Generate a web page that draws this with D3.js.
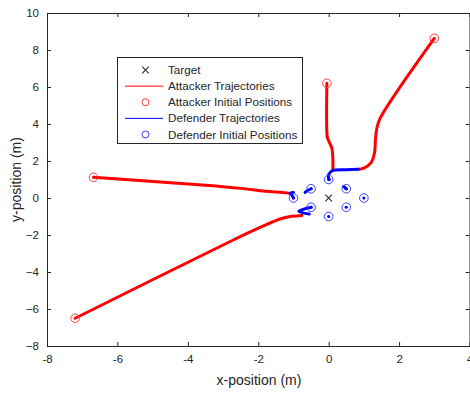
<!DOCTYPE html>
<html>
<head>
<meta charset="utf-8">
<script src="https://cdn.jsdelivr.net/npm/d3@7"></script>
<style>
  body { margin: 0; background: #fff; }
  text { font-family: "Liberation Sans", Arial, sans-serif; fill: #262626; }
</style>
</head>
<body>
<svg id="chart" width="470" height="393"></svg>
<script>
// target and defender start positions
var target = [0, 0];
var defenderStarts = [
  [1, 0], [0.5, 0.5], [0, 1], [-0.5, 0.5],
  [-1, 0], [-0.5, -0.5], [0, -1], [0.5, -0.5]
];

// attacker paths (first point = initial position)
var attackerA = [[3.0, 8.63], [1.46, 4.3], [1.37, 3.77], [1.33, 3.2], [1.30, 2.42], [1.2, 1.9], [1.0, 1.62], [0.84, 1.55]];
var attackerB = [[-0.05, 6.2], [-0.04, 3.31], [-0.01, 3.13], [0.09, 2.69], [0.12, 2.05], [0.12, 1.55]];
var attackerC = [[-6.68, 1.12], [-3.5, 0.69], [-2.5, 0.52], [-1.8, 0.36], [-1.3, 0.3], [-1.08, 0.25]];
var attackerD = [[-7.2, -6.5], [-2.71, -2.27], [-1.9, -1.55], [-1.4, -1.15], [-1.05, -0.99], [-0.76, -0.94]];
var attackers = [attackerA, attackerB, attackerC, attackerD];

// defender paths
var defenderTop = [[0.02, 1.0], [-0.01, 1.15], [0.06, 1.42], [0.18, 1.51], [0.5, 1.53], [0.84, 1.55]];
var defenderUL = [[-0.5, 0.5], [-0.6, 0.4], [-0.67, 0.3]];
var defenderUR = [[0.5, 0.5], [0.46, 0.57], [0.42, 0.62]];
var defenderL = [[-1.0, 0.0], [-1.04, 0.14], [-1.1, 0.25], [-1.0, 0.3]];
var defenderLL = [[-0.5, -0.5], [-0.85, -0.72], [-0.55, -0.87]];
var defenders = [defenderTop, defenderUL, defenderUR, defenderL, defenderLL];

var xTicks = [-8, -6, -4, -2, 0, 2, 4];
var yTicks = [-8, -6, -4, -2, 0, 2, 4, 6, 8, 10];

var legendLabels = ["Target", "Attacker Trajectories", "Attacker Initial Positions",
                    "Defender Trajectories", "Defender Initial Positions"];

var svg = d3.select("#chart");
var L = 47, T = 13, R = 469.5, B = 346;
var axisColor = "#262626";

var scX = d3.scaleLinear().domain([-8, 4]).range([L, R]);
var scY = d3.scaleLinear().domain([-8, 10]).range([B, T]);

// axes: bottom/left with labels, top/right ticks only, ticks pointing inward
var gx = svg.append("g").attr("transform", "translate(0," + B + ")")
  .call(d3.axisBottom(scX).tickValues(xTicks).tickSizeInner(-4).tickSizeOuter(0).tickPadding(9));
var gy = svg.append("g").attr("transform", "translate(" + L + ",0)")
  .call(d3.axisLeft(scY).tickValues(yTicks).tickSizeInner(-4).tickSizeOuter(0).tickPadding(8));
var gxt = svg.append("g").attr("transform", "translate(0," + T + ")")
  .call(d3.axisTop(scX).tickValues(xTicks).tickSizeInner(-4).tickSizeOuter(0).tickFormat(""));
var gyr = svg.append("g").attr("transform", "translate(" + R + ",0)")
  .call(d3.axisRight(scY).tickValues(yTicks).tickSizeInner(-4).tickSizeOuter(0).tickFormat(""));

[gx, gy, gxt, gyr].forEach(function(g) {
  g.selectAll(".domain").attr("stroke", axisColor);
  g.selectAll(".tick line").attr("stroke", axisColor);
  g.selectAll(".tick text").style("font-size", "11.5px").attr("fill", axisColor)
    .style("font-family", "Liberation Sans, Arial, sans-serif");
});
gx.selectAll(".tick text").text(function(d) { return d; });

svg.append("text").attr("x", 259).attr("y", 385)
  .attr("text-anchor", "middle").style("font-size", "14px").text("x-position (m)");
svg.append("text").attr("transform", "translate(21," + ((T + B) / 2) + ") rotate(-90)")
  .attr("text-anchor", "middle").style("font-size", "14px").text("y-position (m)");

var line = d3.line().x(function(d) { return scX(d[0]); }).y(function(d) { return scY(d[1]); })
  .curve(d3.curveCatmullRom.alpha(0.5));

var plot = svg.append("g");

// target
function drawCross(g, cx, cy, s, color) {
  g.append("path").attr("d", "M" + (cx - s) + "," + (cy - s) + "L" + (cx + s) + "," + (cy + s) +
    "M" + (cx - s) + "," + (cy + s) + "L" + (cx + s) + "," + (cy - s))
    .attr("stroke", color).attr("stroke-width", 1.2).attr("fill", "none");
}
drawCross(plot, scX(target[0]), scY(target[1]), 3.3, "#333");

// attacker trajectories
plot.selectAll(".att").data(attackers).enter().append("path")
  .attr("d", line).attr("fill", "none").attr("stroke", "#ff0000")
  .attr("stroke-width", 3).attr("stroke-linecap", "round").attr("stroke-linejoin", "round");

plot.selectAll(".attStart").data(attackers).enter().append("circle")
  .attr("cx", function(d) { return scX(d[0][0]); }).attr("cy", function(d) { return scY(d[0][1]); })
  .attr("r", 4.3).attr("fill", "none").attr("stroke", "#ff4040").attr("stroke-width", 1);

// defender trajectories
plot.selectAll(".def").data(defenders).enter().append("path")
  .attr("d", line).attr("fill", "none").attr("stroke", "#0000ff")
  .attr("stroke-width", 3).attr("stroke-linecap", "round").attr("stroke-linejoin", "round");

plot.selectAll(".defDot").data(defenderStarts).enter().append("circle")
  .attr("cx", function(d) { return scX(d[0]); }).attr("cy", function(d) { return scY(d[1]); })
  .attr("r", 1.6).attr("fill", "#0000ff");
plot.selectAll(".defStart").data(defenderStarts).enter().append("circle")
  .attr("cx", function(d) { return scX(d[0]); }).attr("cy", function(d) { return scY(d[1]); })
  .attr("r", 4.3).attr("fill", "none").attr("stroke", "#4040ff").attr("stroke-width", 1);

// legend
var lg = svg.append("g");
lg.append("rect").attr("x", 117.5).attr("y", 57.5).attr("width", 185).attr("height", 86)
  .attr("fill", "#fff").attr("stroke", axisColor).attr("stroke-width", 1);
var rowY = d3.scalePoint().domain(legendLabels).range([70, 134.5]);
lg.selectAll(".lt").data(legendLabels).enter().append("text")
  .attr("x", 168).attr("y", function(d) { return rowY(d); }).attr("dy", "0.35em")
  .style("font-size", "11.7px").text(function(d) { return d; });

drawCross(lg, 145.5, rowY(legendLabels[0]), 3.3, "#333");
lg.append("line").attr("x1", 125).attr("x2", 163).attr("y1", rowY(legendLabels[1])).attr("y2", rowY(legendLabels[1]))
  .attr("stroke", "#ff0000").attr("stroke-width", 1);
lg.append("circle").attr("cx", 145.5).attr("cy", rowY(legendLabels[2])).attr("r", 3.5)
  .attr("fill", "none").attr("stroke", "#ff4040").attr("stroke-width", 1);
lg.append("line").attr("x1", 125).attr("x2", 163).attr("y1", rowY(legendLabels[3])).attr("y2", rowY(legendLabels[3]))
  .attr("stroke", "#0000ff").attr("stroke-width", 1);
lg.append("circle").attr("cx", 145.5).attr("cy", rowY(legendLabels[4])).attr("r", 3.5)
  .attr("fill", "none").attr("stroke", "#4040ff").attr("stroke-width", 1);
</script>
</body>
</html>
